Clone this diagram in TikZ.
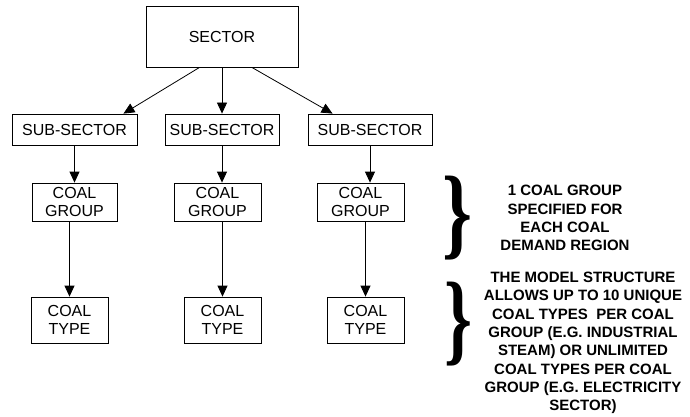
\documentclass[tikz,border=0pt]{standalone}
\usepackage{fontspec}
\usepackage{graphicx}
\setmainfont{Liberation Sans}
\newfontfamily\bracefont{Liberation Serif}
\usetikzlibrary{arrows.meta}

\begin{document}
\begin{tikzpicture}[x=1pt, y=-1pt, line width=0.8pt,
    every node/.style={font=\fontsize{16}{18.3}\selectfont, inner sep=0pt, align=center},
    box/.style={draw, rectangle},
    note/.style={font=\fontsize{15}{18.3}\selectfont\bfseries},
    arr/.style={-{Triangle[length=11pt, width=10pt]}}]
    \useasboundingbox (0,0) rectangle (690,417);

    \node (a1) at (222,36.5) [box, minimum width=152pt, minimum height=61pt] {SECTOR};

    \node (b1) at (74.5,129.5) [box, minimum width=125pt, minimum height=31pt] {SUB-SECTOR};
    \draw[arr] (a1.234) -- (b1.18);

    \node (b2) at (222,129.5) [box, minimum width=114pt, minimum height=31pt] {SUB-SECTOR};
    \draw[arr] (a1.south) -- (b2.north);

    \node (b3) at (370,129.5) [box, minimum width=124pt, minimum height=31pt] {SUB-SECTOR};
    \draw[arr] (a1.314.5) -- (b3.157);

    \node (c1) at (74.5,202) [box, minimum width=85pt, minimum height=38pt] {COAL\\GROUP};
    \draw[arr] (b1.south) -- (b1.south |- c1.north);

    \node (c2) at (217.5,202) [box, minimum width=87pt, minimum height=38pt] {COAL\\GROUP};
    \draw[arr] (b2.south) -- (b2.south |- c2.north);

    \node (c3) at (360.5,202) [box, minimum width=87pt, minimum height=38pt] {COAL\\GROUP};
    \draw[arr] (b3.south) -- (b3.south |- c3.north);

    \node (d1) at (69.5,320) [box, minimum width=77pt, minimum height=46pt] {COAL\\TYPE};
    \draw[arr] (d1.north |- c1.south) -- (d1.north);

    \node (d2) at (222.5,320) [box, minimum width=77pt, minimum height=46pt] {COAL\\TYPE};
    \draw[arr] (d2.north |- c2.south) -- (d2.north);

    \node (d3) at (365.5,320) [box, minimum width=77pt, minimum height=46pt] {COAL\\TYPE};
    \draw[arr] (d3.north |- c3.south) -- (d3.north);

    % braces and notes
    \node (k1) at (457.5,218) {\resizebox*{30pt}{84pt}{\bracefont\bfseries\}}};
    \node (n1) at (565,218) [note] {1 COAL GROUP\\SPECIFIED FOR\\EACH COAL\\DEMAND REGION};

    \node (k2) at (458.5,324) {\resizebox*{28pt}{84pt}{\bracefont\bfseries\}}};
    \node (n2) at (583,343) [note] {THE MODEL STRUCTURE\\ALLOWS UP TO 10 UNIQUE\\COAL TYPES~ PER COAL\\GROUP (E.G. INDUSTRIAL\\STEAM) OR UNLIMITED\\COAL TYPES PER COAL\\GROUP (E.G. ELECTRICITY\\SECTOR)};
\end{tikzpicture}
\end{document}
